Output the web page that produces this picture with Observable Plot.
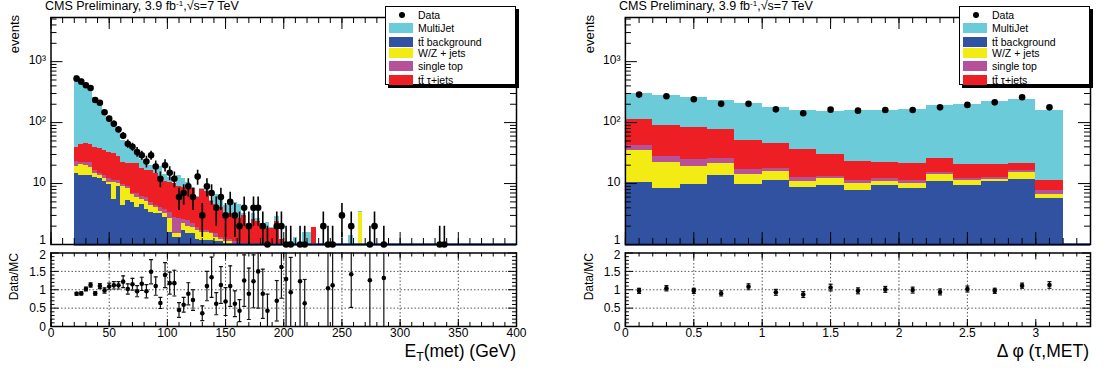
<!DOCTYPE html>
<html><head><meta charset="utf-8">
<script src="https://cdn.jsdelivr.net/npm/d3@7"></script>
<script src="https://cdn.jsdelivr.net/npm/@observablehq/plot@0.6"></script>
<style>
body{margin:0;background:#fff;}
#root{position:relative;width:1106px;height:374px;overflow:hidden;font-family:"Liberation Sans",Arial,Helvetica,sans-serif;color:#000;}
#root svg{position:absolute;top:0;}
.title{position:absolute;top:0;font-size:12.5px;line-height:1;white-space:nowrap;}
.title sup{font-size:0.65em;vertical-align:0.5em;line-height:0;}
.ylab{position:absolute;writing-mode:vertical-rl;transform:rotate(180deg);white-space:nowrap;line-height:15px;}
.xtitle{position:absolute;font-size:17.5px;line-height:1;white-space:nowrap;text-align:right;}
.xtitle sub{font-size:0.7em;vertical-align:-0.3em;line-height:0;}
.legend{position:absolute;top:6px;width:131px;height:79px;box-sizing:border-box;border:1px solid #000;background:#fff;box-shadow:3px 3px 0 #000;z-index:5;}
.lrow{position:absolute;left:0;height:12px;width:128px;}
.lsw{position:absolute;left:3px;top:1px;width:24px;height:10px;}
.ldot{position:absolute;left:13px;top:3px;width:6px;height:6px;border-radius:50%;background:#000;}
.ltxt{position:absolute;left:32px;top:0;font-size:10.5px;line-height:12px;white-space:nowrap;}
</style></head>
<body><div id="root"></div>
<script>
// ---------------- data: left panel, E_T(met), 4 GeV bins starting at 20 GeV ----------------
const etBinStart = 20, etBinWidth = 4;
const etTTbkg = [14.4,13.5,13.5,13.5,12.4,11.9,10.9,9.5,5.5,9.0, 4.4,5.3,4.9,4.1,4.6,3.8,3.4,3.2,3.2,2.8, 1.6,1.3,1.3,1.7,1.5,1.5,1.2,1.16,1.16,1.16, 1.1,1.1,1.0,1.0,0.9,0.9,0.8,0.8,0.7,0.7, 0.6,0.6,0.5,0.5,0.4,0.3,0.3,0.2,0.2,0.2, 0.2,0.2,0.1,0,0.1,0.1,0,0,0,0, 0,0,0,0,0,0,0];
const etWZ = [4.6,6.8,6.2,4.6,2.0,1.6,1.0,1.0,5.0,1.0, 4.6,2.9,1.6,1.9,0.9,1.2,0.9,0.9,0.3,0.4, 1.1,0.2,0.2,0.5,0.5,0.4,0.5,0.44,0.44,0.34, 0.2,0.1,0.1,0.1,0.1,0.1,0.1,0.1,0.1,0.1, 0.1,0.1,0.1,0.1,0.1,0,0,0,0,0, 0,0,0,0,0,0,0,0,0,0, 0,3.3,0,0,0,0,0];
const etSingleTop = [3.8,2.1,2.7,4.3,1.9,0.9,1.6,1.4,0.6,1.1, 0.5,0.8,0.3,0.8,0.7,1.0,0.6,0.3,0.6,0.6, 0.6,1.3,1.2,0.4,0.5,0.3,0.2,0.1,0.1,0.1, 0.2,0.1,0.1,0.1,0.1,0.1,0.1,0.1,0.1,0.1, 0.1,0.1,0.1,0.1,0.1,0.1,0,0,0,0, 0,0,0,0,0,0,0,0,0,0, 0,0,0,0,0,0,0];
const etTTtau = [16.6,21.1,22.3,21.1,23.1,22.6,21.3,20.8,19.5,16.9, 12.9,12.5,14.2,14.2,11.2,10.3,11.4,10.0,7.1,7.1, 7.2,7.1,6.3,6.1,5.7,6.0,4.1,6.3,5.8,3.4, 3.0,2.8,2.0,2.0,1.9,1.6,2.0,1.0,1.7,1.5, 1.4,1.0,1.1,1.7,0.6,0.3,0.6,0.3,0.3,0.4, 0.4,1.7,0.2,0,0.4,0.3,0,0,0,0, 0,0.1,0,0,0,0,0];
const etMultiJet = [551,476,355,287,221,158,115,73,55,41, 27.6,22.5,14,13,7.6,7.7,3.2,2.6,7.8,3.1, 2.2,0.1,4.5,3.3,2.2,0.3,0.2,0.3,1.0,0.3, 2.0,1.3,1.2,1.4,1.8,1.9,0.2,0.2,0.6,0.3, 0.05,0.5,0.1,0.5,0,0.1,0.2,0.8,0.3,1.0, 1.0,0,0.1,0,0.46,0.5,0,0,0,1.4, 0,0.1,0,0.8,0,0,0.75];
const etDataX = [22,26,30,34,38,42,46,50,54,58,62,66,70,74,78,82,86,90,94,98,102,106,110,114,118,122,126,130,134,138,142,146,150,154,158,162,166,170,174,178,182,186,194,198,202,206,214,218,234,238,242,250,258,274,278,286,334,338];
const etDataY = [526,470,410,370,235,212,148,116,96,77, 61,45,40,33,29,23,29,19,12,20, 15,12,6,7,9,6,13,3,9,7, 4,6,3,5,3,2,4,2,4,4, 2,1, 2,2,1,1,1,1,2,1,1,3,2,1,2,1,1,1];
const etDataErr = [23,22,20,19,15,15,12,11,10,9, 8,7,6,6,5,5,5,4.4,3.5,4.5, 3.9,3.5,2.4,2.6,3,2.4,3.6,1.7,3,2.6, 2,2.4,1.7,2.2,1.7,1.4,2,1.4,2,2, 1.4,1, 1.4,1.4,1,1,1,1,1.4,1,1,1.7,1.4,1,1.4,1,1,1];
const etRatioX = [22,26,30,34,38,42,46,50,54,58,62,66,70,74,78,82,86,90,94,98,102,106,110,114,118,122,130,134,138,142,146,150,154,158,162,166,170,174,178,182,186,194,198,202,206,214,218,238,242,258,274,286];
const etRatioY = [0.89,0.90,1.02,1.13,0.90,1.10,0.98,1.09,1.12,1.12, 1.22,1.02,1.15,0.96,1.16,0.96,1.49,1.10,0.64,1.40, 1.18,1.18,0.45,0.59,0.89,0.72, 0.36,1.10,1.34,0.62,1.13,0.68,1.10,0.62,0.43,1.25,0.89,1.23,1.50,0.89,0.43, 0.70,1.62,1.29,0.93,1.23,0.63,1.04,1.12,1.42,1.26,1.32];
const etRatioErr = [0.04,0.04,0.05,0.06,0.05,0.07,0.07,0.09,0.1,0.1, 0.16,0.14,0.16,0.15,0.18,0.18,0.33,0.25,0.15,0.34, 0.3,0.35,0.2,0.2,0.3,0.28, 0.2,0.4,0.55,0.3,0.5,0.38,0.55,0.35,0.3,0.7,0.7,0.72,1.0,0.67,0.45, 0.55,0.85,1.3,0.95,1.3,0.65,1.1,1.2,0.9,1.3,1.4];
const etTicks = [0,50,100,150,200,250,300,350,400];
const etTickLabels = ["0","50","100","150","200","250","300","350","400"];

// ---------------- data: right panel, delta phi(tau, MET), 0.2 bins ----------------
const dphiBinStart = 0, dphiBinWidth = 0.2;
const dphiTTbkg = [10.3,8.4,9.6,13.4,9.5,11.2,8.7,9.3,7.7,9.3,8.2,10.8,9.3,10.8,11.6,5.6];
const dphiWZ = [24.5,14.0,9.6,8.2,4.5,4.7,2.1,2.6,2.2,1.5,1.7,3.1,1.9,0.8,3.4,1.0];
const dphiSingleTop = [7.2,5.3,5.2,3.8,3.0,2.0,1.9,1.3,1.3,1.1,1.3,1.1,0.7,1.1,1.3,1.1];
const dphiTTtau = [70,61,60,51,34,28,23,17,12,10,10,10.4,8.3,7.5,4.7,3.5];
const dphiMultiJet = [190,188,170,153,151,132,125,123,134,139,142,165,175,201,214,146];
const dphiDataX = [0.1,0.3,0.5,0.7,0.9,1.1,1.3,1.5,1.7,1.9,2.1,2.3,2.5,2.7,2.9,3.1];
const dphiDataY = [288,270,241,203,203,165,142,163,157,161,161,178,195,215,260,178];
const dphiDataErr = [17,16,16,14,14,13,12,13,13,13,13,13,14,15,16,13];
const dphiRatioY = [0.97,1.04,0.97,0.90,1.08,0.93,0.87,1.06,0.97,1.01,0.99,0.94,1.02,0.97,1.11,1.13];
const dphiRatioErr = [0.07,0.07,0.07,0.07,0.08,0.08,0.08,0.09,0.08,0.08,0.08,0.08,0.08,0.07,0.07,0.09];
const dphiTicks = [0,0.5,1,1.5,2,2.5,3];
const dphiTickLabels = ["0","0.5","1","1.5","2","2.5","3"];

// ---------------- shared ----------------
const logTicks = [1,10,100,1000];
const logTickLabels = ["1","10","10\u00B2","10\u00B3"];
const ratioTicks = [0,0.5,1,1.5,2];
const ratioTickLabels = ["0","0.5","1","1.5","2"];
const ratioGridY = [0.5,1,1.5];
const legendLabels = ["Data","MultiJet","t\u0074\u0304 background","W/Z + jets","single top","t\u0074\u0304 \u03C4+jets"];
const titleText = 'CMS Preliminary, 3.9 fb<sup>-1</sup>,\u221As=7 TeV';

// ---------------- styling ----------------
const FONT = '"Liberation Sans", Arial, Helvetica, sans-serif';
const COL = {multijet:"#6ccbd8", ttbkg:"#3152a1", wz:"#f3eb14", single:"#b6529a", tttau:"#ed1f24"};
const STACK_COLORS = [COL.ttbkg, COL.wz, COL.single, COL.tttau, COL.multijet]; // bottom -> top
const YLOG = [1, 5300];

function stackRows(start, width, comps) {
  const rows = [];
  for (let i = 0; i < comps[0].length; i++) {
    let cum = 0;
    comps.forEach((arr, j) => { cum += arr[i]; rows.push({x1: start + i*width, x2: start + (i+1)*width, top: cum, bottom: YLOG[0], layer: j}); });
  }
  return rows;
}
function minorLog(max) { const t=[]; for (let d=1; d<=1000; d*=10) for (let k=2;k<=9;k++) if (k*d<=max) t.push(k*d); return t; }

function upperPlot(o) {
  const fw = o.W - o.ml - o.mr, fh = o.H - o.mt - o.mb;
  const data = o.dx.map((x,i) => ({x, y: o.dy[i], lo: Math.max(o.dy[i]-o.de[i], YLOG[0]), hi: o.dy[i]+o.de[i]}));
  const ymin = minorLog(YLOG[1]);
  const fmt = d => logTickLabels[logTicks.indexOf(d)];
  return Plot.plot({
    width: o.W, height: o.H, marginLeft: o.ml, marginRight: o.mr, marginTop: o.mt, marginBottom: o.mb,
    style: {background: "transparent", overflow: "visible", fontFamily: FONT, color: "black"},
    x: {domain: o.xDomain, axis: null},
    y: {type: "log", domain: YLOG},
    marks: [
      ...[4,3,2,1,0].map(j => Plot.rect(o.rows.filter(r => r.layer === j && r.top > YLOG[0]),
        {x1: "x1", x2: "x2", y1: "bottom", y2: "top", fill: STACK_COLORS[j], shapeRendering: "crispEdges", clip: true})),
      Plot.ruleY([YLOG[0]], {x1: o.lineX[0], x2: o.lineX[1], stroke: COL.ttbkg, strokeWidth: 2.5}),
      Plot.ruleX(data, {x: "x", y1: "lo", y2: "hi", stroke: "black", strokeWidth: 1.6, clip: true}),
      Plot.dot(data, {x: "x", y: "y", r: 3.3, fill: "black"}),
      Plot.tickY(logTicks, {insetRight: fw - 12, stroke: "black"}),
      Plot.tickY(ymin, {insetRight: fw - 6, stroke: "black"}),
      Plot.tickY(logTicks, {insetLeft: fw - 12, stroke: "black"}),
      Plot.tickY(ymin, {insetLeft: fw - 6, stroke: "black"}),
      Plot.tickX(o.xMajor, {insetBottom: fh - 12, stroke: "black"}),
      Plot.tickX(o.xMinor, {insetBottom: fh - 6, stroke: "black"}),
      Plot.tickX(o.xMajor, {insetTop: fh - 12, stroke: "black"}),
      Plot.tickX(o.xMinor, {insetTop: fh - 6, stroke: "black"}),
      Plot.frame({stroke: "black", strokeWidth: 1.5}),
      Plot.axisY(logTicks.slice(1), {anchor: "left", tickSize: 0, tickPadding: 5, fontSize: 12, label: null, dy: -1.5, tickFormat: fmt}),
      Plot.axisY(logTicks.slice(0, 1), {anchor: "left", tickSize: 0, tickPadding: 5, fontSize: 12, label: null, dy: -4, tickFormat: fmt})
    ]
  });
}

function ratioPlot(o) {
  const fw = o.W - o.ml - o.mr, fh = o.H - o.mt - o.mb;
  const data = o.rx.map((x,i) => ({x, y: o.ry[i], lo: o.ry[i]-o.re[i], hi: o.ry[i]+o.re[i]}));
  const cap = {draw(ctx) { ctx.moveTo(-2, 0); ctx.lineTo(2, 0); }};
  const yMinor = d3.range(0.1, 2, 0.1).filter(v => Math.abs(v*2 - Math.round(v*2)) > 1e-6);
  const fmt = d => ratioTickLabels[ratioTicks.indexOf(d)];
  return Plot.plot({
    width: o.W, height: o.H, marginLeft: o.ml, marginRight: o.mr, marginTop: o.mt, marginBottom: o.mb,
    style: {background: "transparent", overflow: "visible", fontFamily: FONT, color: "black"},
    x: {domain: o.xDomain},
    y: {domain: [0, 2]},
    marks: [
      Plot.ruleX(o.xMajor.slice(1, -1).filter(v => v < o.xDomain[1]), {stroke: "#444", strokeDasharray: "1.5,2", strokeWidth: 0.9}),
      Plot.ruleY(ratioGridY, {stroke: "#444", strokeDasharray: "1.5,2", strokeWidth: 0.9}),
      Plot.ruleX(data, {x: "x", y1: "lo", y2: "hi", stroke: "#111", strokeWidth: 1.2, clip: true}),
      Plot.dot(data, {x: "x", y: "lo", symbol: cap, stroke: "#111", strokeWidth: 1.2, clip: true}),
      Plot.dot(data, {x: "x", y: "hi", symbol: cap, stroke: "#111", strokeWidth: 1.2, clip: true}),
      Plot.dot(data, {x: "x", y: "y", r: 2.3, fill: "black"}),
      Plot.tickY(ratioTicks, {insetRight: fw - 8, stroke: "black"}),
      Plot.tickY(yMinor, {insetRight: fw - 4, stroke: "black"}),
      Plot.tickY(ratioTicks, {insetLeft: fw - 8, stroke: "black"}),
      Plot.tickY(yMinor, {insetLeft: fw - 4, stroke: "black"}),
      Plot.tickX(o.xMajor, {insetTop: fh - 7, stroke: "black"}),
      Plot.tickX(o.xMinor, {insetTop: fh - 4, stroke: "black"}),
      Plot.tickX(o.xMajor, {insetBottom: fh - 7, stroke: "black"}),
      Plot.tickX(o.xMinor, {insetBottom: fh - 4, stroke: "black"}),
      Plot.frame({stroke: "black", strokeWidth: 1.5}),
      Plot.axisY(ratioTicks.slice(0, -1), {anchor: "left", tickSize: 0, tickPadding: 5, fontSize: 12, label: null, dy: 0.5, tickFormat: fmt}),
      Plot.axisY(ratioTicks.slice(-1), {anchor: "left", tickSize: 0, tickPadding: 5, fontSize: 12, label: null, dy: 2, tickFormat: fmt}),
      Plot.axisX(o.xMajor, {anchor: "bottom", tickSize: 0, tickPadding: 2, fontSize: 12, label: null,
        tickFormat: d => o.xLabels[o.xMajor.indexOf(d)]})
    ]
  });
}

const root = document.getElementById("root");
function place(svg, left) { svg.style.left = left + "px"; root.appendChild(svg); }

// left panel
const etRows = stackRows(etBinStart, etBinWidth, [etTTbkg, etWZ, etSingleTop, etTTtau, etMultiJet]);
const etMinor = d3.range(0, 401, 10);
place(upperPlot({W: 560, H: 250, ml: 50.5, mr: 44, mt: 17, mb: 6, xDomain: [0, 400], rows: etRows,
  dx: etDataX, dy: etDataY, de: etDataErr, lineX: [etBinStart, 400], xMajor: etTicks, xMinor: etMinor}), 0);
place(ratioPlot({W: 560, H: 374, ml: 50.5, mr: 44, mt: 252.5, mb: 48, xDomain: [0, 400],
  rx: etRatioX, ry: etRatioY, re: etRatioErr, xMajor: etTicks, xLabels: etTickLabels, xMinor: etMinor}), 0);

// right panel
const dphiRows = stackRows(dphiBinStart, dphiBinWidth, [dphiTTbkg, dphiWZ, dphiSingleTop, dphiTTtau, dphiMultiJet]);
const dphiMinor = d3.range(0, 3.41, 0.1);
place(upperPlot({W: 553, H: 250, ml: 71.9, mr: 16, mt: 17, mb: 6, xDomain: [0, 3.4], rows: dphiRows,
  dx: dphiDataX, dy: dphiDataY, de: dphiDataErr, lineX: [dphiBinStart, 3.4], xMajor: dphiTicks, xMinor: dphiMinor}), 553);
place(ratioPlot({W: 553, H: 374, ml: 71.9, mr: 16, mt: 252.5, mb: 48, xDomain: [0, 3.4],
  rx: dphiDataX, ry: dphiRatioY, re: dphiRatioErr, xMajor: dphiTicks, xLabels: dphiTickLabels, xMinor: dphiMinor}), 553);

// html text
function addDiv(cls, html, style) { const d = document.createElement("div"); d.className = cls; d.innerHTML = html; Object.assign(d.style, style); root.appendChild(d); return d; }
addDiv("title", titleText, {left: "45px"});
addDiv("title", titleText, {left: "619px"});
addDiv("ylab", "events", {left: "6.5px", top: "15px", fontSize: "13px"});
addDiv("ylab", "Data/MC", {left: "6.5px", top: "253px", fontSize: "12px"});
addDiv("ylab", "events", {left: "581.5px", top: "15px", fontSize: "13px"});
addDiv("ylab", "Data/MC", {left: "581.5px", top: "253px", fontSize: "12px"});
addDiv("xtitle", "E<sub>T</sub>(met) (GeV)", {right: (1106 - 516) + "px", top: "343px"});
addDiv("xtitle", "\u0394 \u03C6 (\u03C4,MET)", {right: (1106 - 1089) + "px", top: "343px"});

function legend(left) {
  const box = addDiv("legend", "", {left: left + "px"});
  const rowTops = [2, 14.5, 28.5, 40, 53, 67];
  const swatch = [null, COL.multijet, COL.ttbkg, COL.wz, COL.single, COL.tttau];
  legendLabels.forEach((lab, i) => {
    const r = document.createElement("div"); r.className = "lrow"; r.style.top = rowTops[i] + "px";
    r.innerHTML = (i === 0 ? '<div class="ldot"></div>' : `<div class="lsw" style="background:${swatch[i]}"></div>`) + `<div class="ltxt">${lab}</div>`;
    box.appendChild(r);
  });
}
legend(385);
legend(959);
</script></body></html>
